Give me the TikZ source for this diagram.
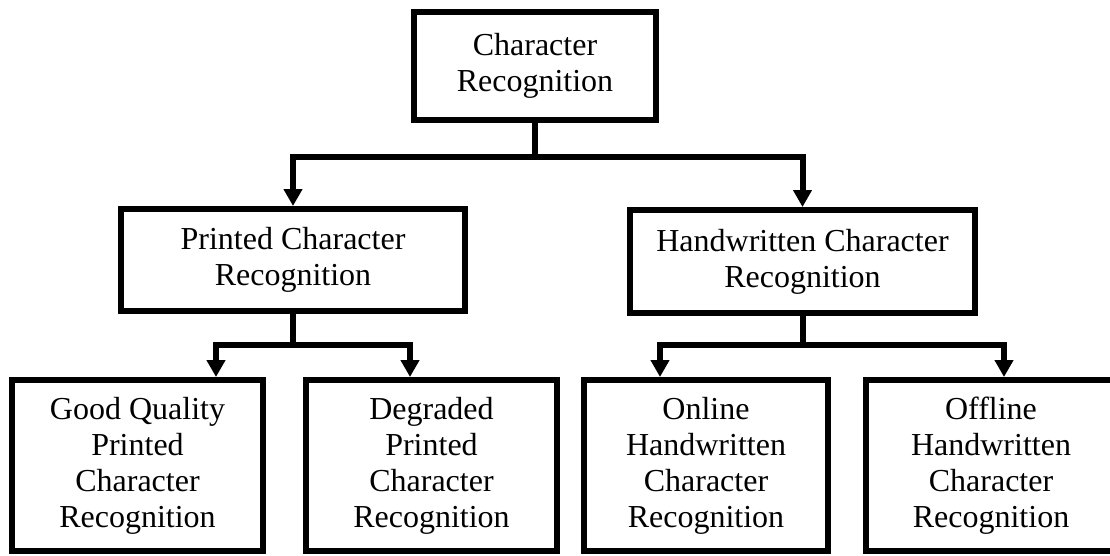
\documentclass[tikz,border=0pt]{standalone}
\usepackage{fontspec}
\setmainfont{Liberation Serif}
\usetikzlibrary{arrows.meta, positioning, calc}

\begin{document}
\begin{tikzpicture}[
    x=1pt, y=-1pt,
    font=\fontsize{32}{36}\selectfont,
    box/.style={draw, line width=6pt, align=center, inner sep=0pt},
    linha/.style={line width=6pt},
    barr/.style={line width=6pt, -{Triangle[length=17pt, width=18pt]}},
]
\useasboundingbox (0,0) rectangle (1110,555);

% ── Raiz ───────────────────────────────────────────
\node[box, minimum width=242pt, minimum height=108pt] (cr) at (535,66) {Character\\Recognition};

% ── Segundo nivel ──────────────────────────────────
\node[box, minimum width=344pt, minimum height=102pt] (printed) at (293,260) {Printed Character\\Recognition};
\node[box, minimum width=345pt, minimum height=103pt] (hand) at (802.5,261.5) {Handwritten Character\\Recognition};

% ── Terceiro nivel ─────────────────────────────────
\node[box, minimum width=251pt, minimum height=171pt] (good)    at (137.5,465.5) {Good Quality\\Printed\\Character\\Recognition};
\node[box, minimum width=251pt, minimum height=171pt] (degr)    at (431.5,465.5) {Degraded\\Printed\\Character\\Recognition};
\node[box, minimum width=244pt, minimum height=171pt] (online)  at (706,465.5)   {Online\\Handwritten\\Character\\Recognition};
\node[box, minimum width=250pt, minimum height=171pt] (offline) at (991,465.5)   {Offline\\Handwritten\\Character\\Recognition};

% Setas raiz -> segundo nivel
\draw[linha] (cr.south) -- ++(0,34) coordinate (crj);
\draw[barr] (crj) -| (printed.north);
\draw[barr] (crj) -| (hand.north);

% Setas segundo -> terceiro nivel
\draw[linha] (printed.south) -- ++(0,31) coordinate (pj);
\draw[barr] (pj) -| ([xshift=78.5pt]good.north);
\draw[barr] (pj) -| ([xshift=-21.5pt]degr.north);

\draw[linha] (hand.south) -- ++(0,29) coordinate (hj);
\draw[barr] (hj) -| ([xshift=-46pt]online.north);
\draw[barr] (hj) -| ([xshift=13pt]offline.north);

\end{tikzpicture}
\end{document}
